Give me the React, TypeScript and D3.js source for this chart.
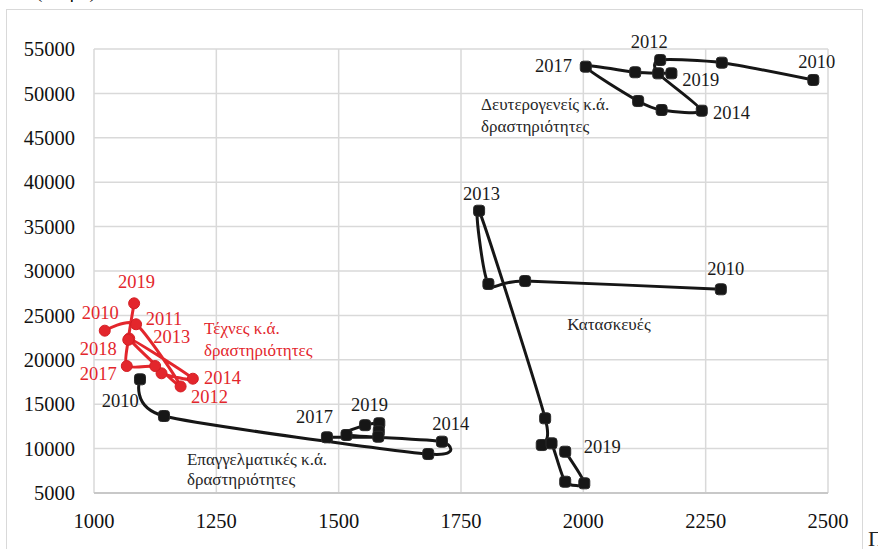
import * as d3 from "d3";
import React, { useEffect, useRef } from "react";

const xTicks = [1000, 1250, 1500, 1750, 2000, 2250, 2500];
const yTicks = [5000, 10000, 15000, 20000, 25000, 30000, 35000, 40000, 45000, 50000, 55000];

// Τέχνες κ.ά. δραστηριότητες (red)
const texnesX = [1022, 1086, 1177, 1072, 1202, 1138, 1125, 1067, 1070, 1082];
const texnesY = [23280, 24000, 17000, 22400, 17870, 18480, 19300, 19300, 22250, 26360];

// Επαγγελματικές κ.ά. δραστηριότητες
const epagX = [1094, 1143, 1683, 1711, 1516, 1554, 1583, 1582, 1581, 1476];
const epagY = [17800, 13670, 9390, 10780, 11530, 12640, 12850, 11950, 11340, 11270];

// Κατασκευές
const kataskX = [2281, 1881, 1806, 1787, 1922, 1915, 1935, 1963, 2002, 1963];
const kataskY = [27940, 28870, 28540, 36790, 13410, 10400, 10590, 6270, 6090, 9650];

// Δευτερογενείς κ.ά. δραστηριότητες
const defterX = [2470, 2283, 2157, 2153, 2242, 2160, 2112, 2005, 2106, 2180];
const defterY = [51510, 53460, 53760, 52260, 48050, 48130, 49140, 53010, 52380, 52260];

// year labels (text, x, y in data units, left edge / middle)
const redYearLabels = [
  ["2019", 1049, 28760],
  ["2010", 975, 25270],
  ["2011", 1106, 24600],
  ["2013", 1121, 22570],
  ["2018", 971, 21220],
  ["2017", 971, 18510],
  ["2014", 1225, 18060],
  ["2012", 1198, 15810],
];
const blackYearLabels = [
  ["2013", 1754, 38670],
  ["2010", 2253, 30225],
  ["2019", 2001, 10180],
  ["2012", 2097, 55790],
  ["2010", 2439, 53540],
  ["2019", 2202, 51510],
  ["2014", 2265, 47790],
  ["2017", 1901, 53090],
  ["2010", 1016, 15470],
  ["2017", 1413, 13560],
  ["2019", 1525, 14910],
  ["2014", 1691, 12770],
];
const seriesLabels = [
  ["Τέχνες κ.ά.", 1225, 23580, "red"],
  ["δραστηριότητες", 1225, 21100, "red"],
  ["Κατασκευές", 1967, 24030, "black"],
  ["Δευτερογενείς κ.ά.", 1791, 48810, "black"],
  ["δραστηριότητες", 1791, 46330, "black"],
  ["Επαγγελματικές κ.ά.", 1190, 8830, "black"],
  ["δραστηριότητες", 1190, 6560, "black"],
];

const RED = "#e3262c";
const BLACK = "#161616";
const FONT = "Liberation Serif, DejaVu Serif, serif";

const App = () => {
  const node = useRef<SVGSVGElement>(null);
  useEffect(() => {
    const svg = d3.select(node.current);
    svg.selectAll("*").remove();
    const x = d3.scaleLinear().domain([1000, 2500]).range([94, 828]);
    const y = d3.scaleLinear().domain([5000, 55000]).range([493, 49]);

    // outer frame
    svg
      .append("rect")
      .attr("x", 6.5)
      .attr("y", 9.5)
      .attr("width", 856)
      .attr("height", 560)
      .attr("fill", "white")
      .attr("stroke", "#d9d9d9");

    // cut-off texts
    svg
      .append("text")
      .attr("x", 36)
      .attr("y", -2)
      .style("font-family", FONT)
      .attr("font-size", 19)
      .text("(άτομα)");
    svg
      .append("text")
      .attr("x", 868)
      .attr("y", 546)
      .style("font-family", FONT)
      .attr("font-size", 22)
      .attr("fill", "#222")
      .text("Π");

    const grid = svg.append("g");
    grid
      .selectAll("line.v")
      .data(xTicks)
      .enter()
      .append("line")
      .attr("x1", (d) => x(d))
      .attr("x2", (d) => x(d))
      .attr("y1", y(55000))
      .attr("y2", y(5000))
      .attr("stroke", "#d9d9d9")
      .attr("stroke-width", 1.5);
    grid
      .selectAll("line.h")
      .data(yTicks)
      .enter()
      .append("line")
      .attr("x1", x(1000))
      .attr("x2", x(2500))
      .attr("y1", (d) => y(d))
      .attr("y2", (d) => y(d))
      .attr("stroke", (d) => (d === 5000 ? "#c8c8c8" : "#d9d9d9"))
      .attr("stroke-width", (d) => (d === 5000 ? 2 : 1.5));

    svg
      .append("g")
      .selectAll("text")
      .data(yTicks)
      .enter()
      .append("text")
      .attr("x", 75)
      .attr("y", (d) => y(d))
      .attr("dy", "0.35em")
      .attr("text-anchor", "end")
      .style("font-family", FONT)
      .attr("font-size", 20.5)
      .attr("fill", "#111")
      .text((d) => d);
    svg
      .append("g")
      .selectAll("text")
      .data(xTicks)
      .enter()
      .append("text")
      .attr("x", (d) => x(d))
      .attr("y", 521)
      .attr("dy", "0.35em")
      .attr("text-anchor", "middle")
      .style("font-family", FONT)
      .attr("font-size", 20.5)
      .attr("fill", "#111")
      .text((d) => d);

    const line = d3
      .line<[number, number]>()
      .x((d) => x(d[0]))
      .y((d) => y(d[1]))
      .curve(d3.curveCardinal.tension(0.3));

    const series = [
      { xs: epagX, ys: epagY, color: BLACK, rx: 3 },
      { xs: kataskX, ys: kataskY, color: BLACK, rx: 3 },
      { xs: defterX, ys: defterY, color: BLACK, rx: 3 },
      { xs: texnesX, ys: texnesY, color: RED, rx: 5.5 },
    ];
    series.forEach((s) => {
      const pts = s.xs.map((v, i) => [v, s.ys[i]] as [number, number]);
      const g = svg.append("g");
      g.append("path")
        .datum(pts)
        .attr("fill", "none")
        .attr("stroke", s.color)
        .attr("stroke-width", 3)
        .attr("stroke-linejoin", "round")
        .attr("d", line);
      g.selectAll("rect")
        .data(pts)
        .enter()
        .append("rect")
        .attr("x", (d) => x(d[0]) - 5.5)
        .attr("y", (d) => y(d[1]) - 5.5)
        .attr("width", 11)
        .attr("height", 11)
        .attr("rx", s.rx)
        .attr("fill", s.color)
        .attr("stroke", s.color === RED ? "#d41f25" : "#2a2a2a")
        .attr("stroke-width", 1);
    });

    const addLabels = (labels, color, size) => {
      svg
        .append("g")
        .selectAll("text")
        .data(labels)
        .enter()
        .append("text")
        .attr("x", (d) => x(d[1]))
        .attr("y", (d) => y(d[2]))
        .attr("dy", "0.35em")
        .style("font-family", FONT)
        .attr("font-size", size)
        .attr("fill", color)
        .text((d) => d[0]);
    };
    addLabels(redYearLabels, RED, 18.5);
    addLabels(blackYearLabels, "#1a1a1a", 18.5);
    addLabels(
      seriesLabels.filter((d) => d[3] === "red"),
      RED,
      17
    );
    addLabels(
      seriesLabels.filter((d) => d[3] === "black"),
      "#262626",
      17
    );
  }, []);
  return (
    <svg
      ref={node}
      width={878}
      height={549}
      style={{ position: "absolute", left: 0, top: 0, background: "white" }}
    />
  );
};

export default App;
